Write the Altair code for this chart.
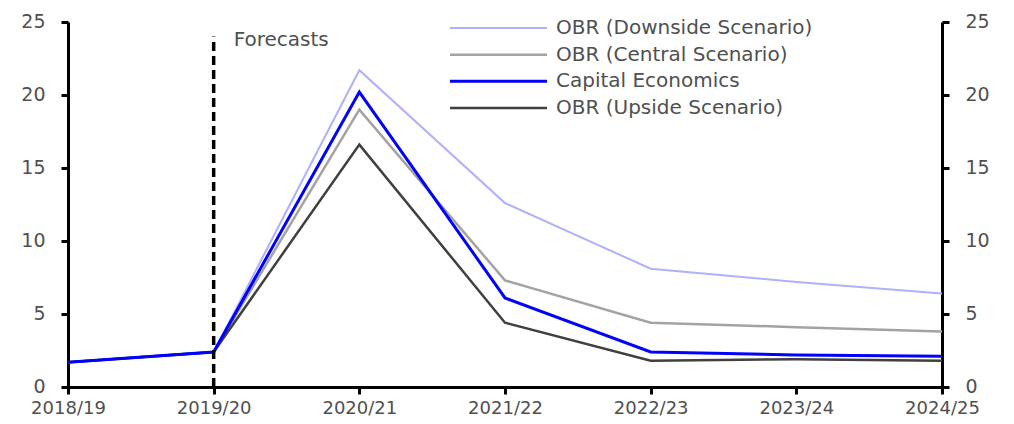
import altair as alt
import pandas as pd

years = ["2018/19", "2019/20", "2020/21", "2021/22", "2022/23", "2023/24", "2024/25"]
downside = [1.7, 2.4, 21.7, 12.6, 8.1, 7.2, 6.4]
central = [1.7, 2.4, 19.0, 7.3, 4.4, 4.1, 3.8]
capital = [1.7, 2.4, 20.2, 6.1, 2.4, 2.2, 2.1]
upside = [1.7, 2.4, 16.6, 4.4, 1.8, 1.9, 1.8]

series_names = ["OBR (Downside Scenario)", "OBR (Central Scenario)", "Capital Economics", "OBR (Upside Scenario)"]
series_values = [downside, central, capital, upside]
series_colors = ["#b0b0ff", "#a3a3a3", "#0000ff", "#404040"]
series_widths = [2, 2.5, 3, 2.5]
draw_order = [0, 1, 3, 2]

forecast_year = "2019/20"
forecast_top = 24
forecast_label = "Forecasts"

FONT = "DejaVu Sans"
TXT = "#505050"
FS = 20

rows = []
for name, vals in zip(series_names, series_values):
    for yr, v in zip(years, vals):
        rows.append({"year": yr, "series": name, "value": v})
df = pd.DataFrame(rows)

xaxis = alt.Axis(labelAngle=0, grid=False, labelFontSize=18, labelPadding=5)


def xenc():
    return alt.X("year:O", scale=alt.Scale(type="point", padding=0, domain=years), title=None, axis=xaxis)


yscale = alt.Scale(domain=[0, 25], nice=False, zero=True)
yticks = [0, 5, 10, 15, 20, 25]

layers = []
for k, i in enumerate(draw_order):
    name = series_names[i]
    if k == 0:
        yax = alt.Axis(orient="left", values=yticks, grid=False, labelOffset=-1)
    elif k == 1:
        yax = alt.Axis(orient="right", values=yticks, grid=False, labelOffset=-1)
    else:
        yax = None
    ch = alt.Chart(df).transform_filter(alt.datum.series == name).mark_line(
        color=series_colors[i], strokeWidth=series_widths[i]
    ).encode(
        x=xenc(),
        y=alt.Y("value:Q", scale=yscale, title=None, axis=yax),
    )
    layers.append(ch)

fc_df = pd.DataFrame({"year": [forecast_year], "y0": [0], "y1": [forecast_top], "label": [forecast_label]})
rule = alt.Chart(fc_df).mark_rule(color="black", strokeWidth=3.5, strokeDash=[9, 5]).encode(
    x=xenc(),
    y=alt.Y("y0:Q", scale=yscale, axis=None),
    y2="y1:Q",
)
fc_text = alt.Chart(fc_df).mark_text(
    align="left", baseline="middle", dx=20, font=FONT, fontSize=FS, color=TXT
).encode(
    x=xenc(),
    y=alt.value(18),
    text="label:N",
)

leg_df = pd.DataFrame({"series": series_names, "color": series_colors, "w": series_widths})
leg_y = alt.Y("series:N", scale=alt.Scale(type="point", padding=0, domain=series_names, range=[6, 86]), axis=None)
leg_rule = alt.Chart(leg_df).mark_rule().encode(
    x=alt.value(382), x2=alt.value(479), y=leg_y,
    color=alt.Color("color:N", scale=None),
    strokeWidth=alt.StrokeWidth("w:Q", scale=None),
)
leg_text = alt.Chart(leg_df).mark_text(
    align="left", baseline="middle", font=FONT, fontSize=FS, color=TXT
).encode(x=alt.value(488), y=leg_y, text="series:N")

chart = alt.layer(*layers, rule, fc_text, leg_rule, leg_text).resolve_scale(
    y="independent"
).properties(
    width=874, height=365,
    autosize=alt.AutoSizeParams(type="none"),
    padding={"left": 60, "top": 14, "right": 64, "bottom": 29},
).configure_view(stroke=None).configure_axis(
    domainColor="black", domainWidth=3, tickColor="black", tickWidth=3, tickSize=7,
    labelFont=FONT, labelFontSize=FS, labelColor=TXT,
).configure_axisY(labelPadding=16, labelFontSize=19)

chart.save("out.html", embed_options={"renderer": "svg", "actions": False})
